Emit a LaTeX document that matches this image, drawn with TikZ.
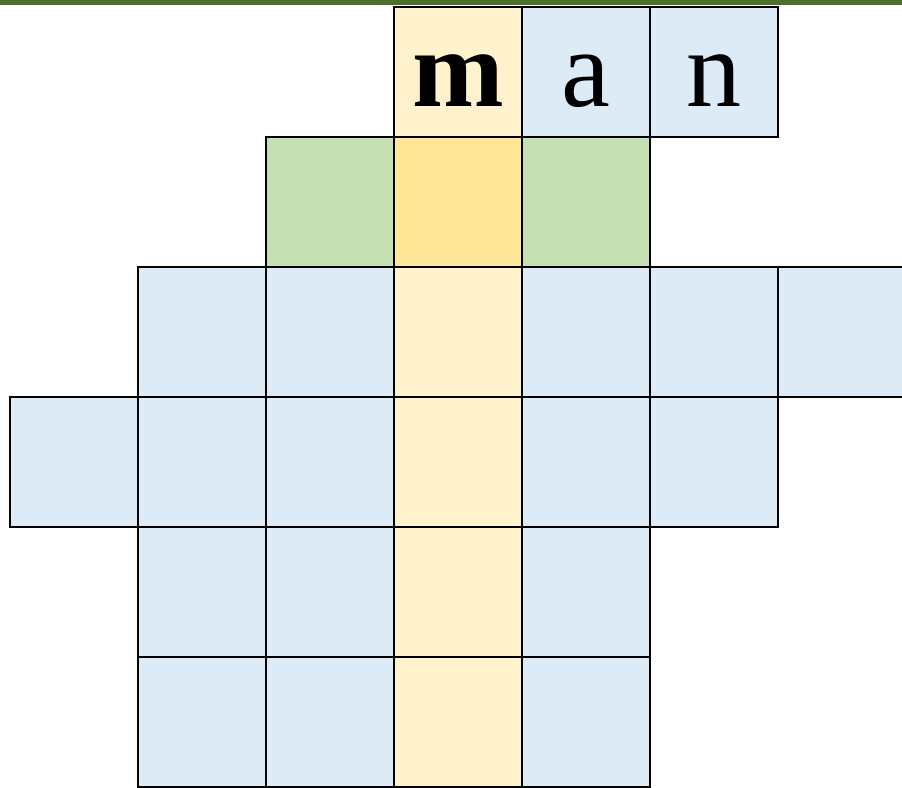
\documentclass[tikz,border=0pt]{standalone}
\usepackage{fontspec}
\setmainfont{Liberation Serif}
\definecolor{cblue}{HTML}{DDEBF7}
\definecolor{cyel}{HTML}{FFF2CC}
\definecolor{cgreen}{HTML}{C6E0B4}
\definecolor{cgold}{HTML}{FFE699}
\definecolor{barg}{RGB}{74,112,42}
\begin{document}
\begin{tikzpicture}[x=1pt,y=1pt,
  cell/.style={draw=black, line width=1.1pt},
  letter/.style={anchor=base, inner sep=0pt, font=\fontsize{110}{110}\selectfont}]
\useasboundingbox (0,0) rectangle (902,787);
\begin{scope}
\clip (0,0) rectangle (902,787);
\fill[barg] (0,782) rectangle (902,787);
\foreach \c/\r/\col in {
  3/0/cyel, 4/0/cblue, 5/0/cblue,
  2/1/cgreen, 3/1/cgold, 4/1/cgreen,
  1/2/cblue, 2/2/cblue, 3/2/cyel, 4/2/cblue, 5/2/cblue, 6/2/cblue,
  0/3/cblue, 1/3/cblue, 2/3/cblue, 3/3/cyel, 4/3/cblue, 5/3/cblue,
  1/4/cblue, 2/4/cblue, 3/4/cyel, 4/4/cblue,
  1/5/cblue, 2/5/cblue, 3/5/cyel, 4/5/cblue}
  {\filldraw[cell, fill=\col] ({10+128*\c},{780-130*\r}) rectangle ++(128,-130);}
\end{scope}
\node[letter] (lm) at (458,680) {\textbf{m}};
\node[letter] (la) at (586,680) {a};
\node[letter] (ln) at (714,680) {n};
\end{tikzpicture}
\end{document}
